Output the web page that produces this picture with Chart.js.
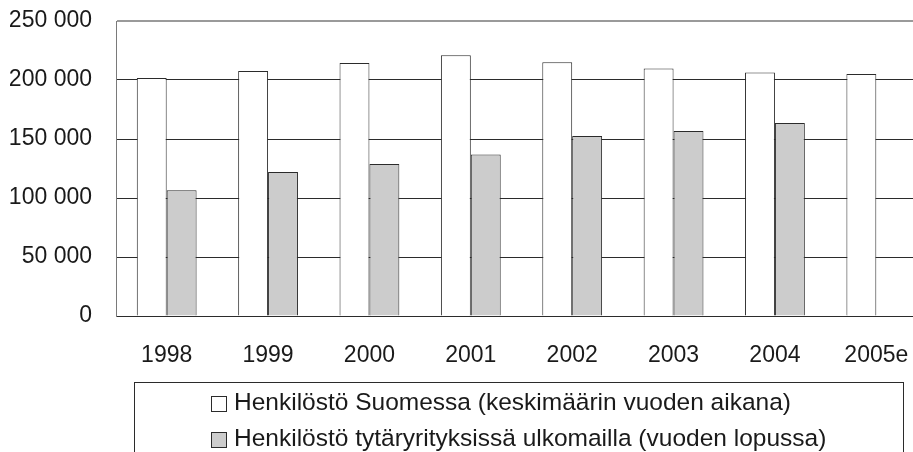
<!DOCTYPE html>
<html>
<head>
<meta charset="utf-8">
<script src="https://cdn.jsdelivr.net/npm/chart.js@4"></script>
<style>
	html, body { margin: 0; padding: 0; background: #fff; overflow: hidden; }
	#wrap { width: 930px; height: 452px; position: relative; }
</style>
</head>
<body>
<div id="wrap"><canvas id="chart"></canvas></div>
<script>
const years = ['1998', '1999', '2000', '2001', '2002', '2003', '2004', '2005e'];
const staffFinland = [201700, 207600, 214400, 220900, 215000, 209700, 206300, 205100];
const staffAbroad = [106500, 122000, 128800, 136800, 152500, 156800, 163600, null];
const seriesNames = [
	'Henkilöstö Suomessa (keskimäärin vuoden aikana)',
	'Henkilöstö tytäryrityksissä ulkomailla (vuoden lopussa)',
];

const FONT = "'Liberation Sans', Arial, sans-serif";
const TEXT = '#1a1a1a';
const EDGE = '#2b2b2b';

const formatThousands = value => String(value).replace(/\B(?=(\d{3})+(?!\d))/g, ' ');

// legend drawn in a framed box under the axis, entries stacked and centred as a block
const boxLegend = {
	id: 'boxLegend',
	afterDraw(chart) {
		const ctx = chart.ctx;
		const box = { left: 134.5, top: 382.5, right: 903.5, bottom: 470 };
		const rowY = [403, 439.5];
		const icon = 15;
		const gap = 8;

		ctx.save();
		ctx.strokeStyle = EDGE;
		ctx.lineWidth = 1;
		ctx.strokeRect(box.left, box.top, box.right - box.left, box.bottom - box.top);

		ctx.font = '24.5px ' + FONT;
		const widest = Math.max(...chart.data.datasets.map(ds => ctx.measureText(ds.label).width));
		const startX = Math.round((box.left + box.right) / 2 - (icon + gap + widest) / 2);

		chart.data.datasets.forEach((ds, i) => {
			const y = rowY[i];
			ctx.fillStyle = ds.backgroundColor;
			ctx.fillRect(startX + 0.5, Math.round(y - icon / 2) + 0.5, icon, icon);
			ctx.strokeStyle = EDGE;
			ctx.strokeRect(startX + 0.5, Math.round(y - icon / 2) + 0.5, icon, icon);
			ctx.fillStyle = TEXT;
			ctx.textBaseline = 'middle';
			ctx.textAlign = 'left';
			ctx.fillText(ds.label, startX + icon + gap, y);
		});
		ctx.restore();
	}
};

new Chart(document.getElementById('chart'), {
	type: 'bar',
	data: {
		labels: years,
		datasets: [
			{
				label: seriesNames[0],
				data: staffFinland,
				backgroundColor: '#ffffff',
				borderColor: EDGE,
				borderWidth: 1,
			},
			{
				label: seriesNames[1],
				data: staffAbroad,
				backgroundColor: '#cccccc',
				borderColor: EDGE,
				borderWidth: 1,
			},
		]
	},
	options: {
		responsive: true,
		maintainAspectRatio: false,
		animation: false,
		datasets: {
			bar: {
				categoryPercentage: 0.59,
				barPercentage: 1,
			}
		},
		layout: {
			padding: { left: 10, right: 3, top: 21, bottom: 84 }
		},
		plugins: {
			legend: { display: false },
			tooltip: { enabled: false },
		},
		scales: {
			x: {
				grid: { display: false, drawTicks: false },
				border: { display: true, color: EDGE, width: 1 },
				ticks: {
					padding: 26,
					color: TEXT,
					font: { family: FONT, size: 23 },
					maxRotation: 0,
				},
				afterFit: scale => {
					scale.height = 52;
					scale.paddingLeft = 0;
					scale.paddingRight = 0;
				},
			},
			y: {
				min: 0,
				max: 250000,
				grid: {
					drawTicks: false,
					color: ctx => ctx.tick && ctx.tick.value === 250000 ? '#9a9a9a' : EDGE,
					lineWidth: ctx => ctx.tick && ctx.tick.value === 250000 ? 2 : 1,
				},
				border: { display: true, color: '#7a7a7a', width: 1 },
				ticks: {
					stepSize: 50000,
					padding: 24,
					color: TEXT,
					font: { family: FONT, size: 23 },
					callback: value => formatThousands(value),
				},
				afterFit: scale => {
					scale.width = 106;
					scale.paddingTop = 0;
					scale.paddingBottom = 0;
				},
			}
		}
	},
	plugins: [boxLegend]
});
</script>
</body>
</html>
